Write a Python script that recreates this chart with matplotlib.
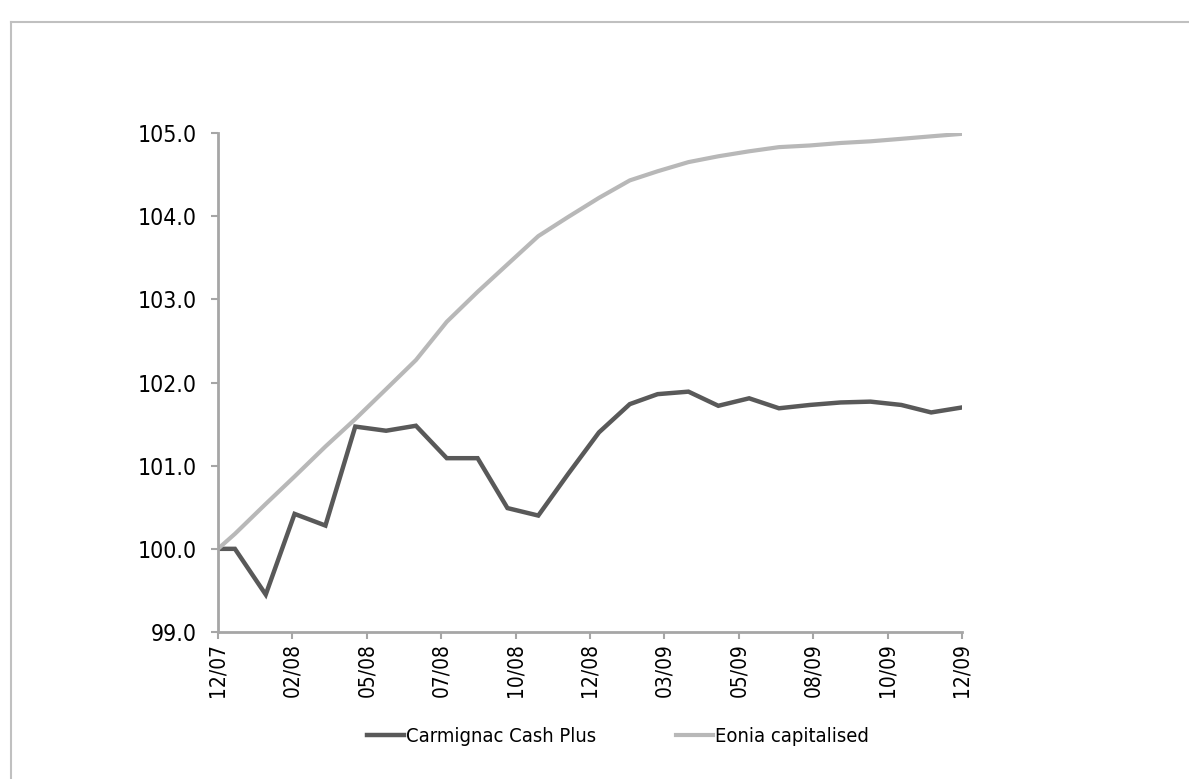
import matplotlib.pyplot as plt
import matplotlib.dates as mdates
from matplotlib.lines import Line2D
import numpy as np
import pandas as pd

# month-end valuation dates, first point is launch of the period
dates = pd.to_datetime(['2007-12-14']).append(pd.date_range('2007-12-31', '2009-12-31', freq='ME'))

carmignac = [100.00, 100.00, 99.45, 100.42, 100.28, 101.47, 101.42, 101.48, 101.09,
             101.09, 100.49, 100.40, 100.90, 101.40, 101.74, 101.86, 101.89, 101.72,
             101.81, 101.69, 101.73, 101.76, 101.77, 101.73, 101.64, 101.70]
eonia = [100.00, 100.18, 100.54, 100.87, 101.23, 101.56, 101.92, 102.27, 102.73,
         103.09, 103.42, 103.76, 103.99, 104.22, 104.43, 104.54, 104.65, 104.72,
         104.78, 104.83, 104.85, 104.88, 104.90, 104.93, 104.96, 104.99]

x_labels = ['12/07', '02/08', '05/08', '07/08', '10/08', '12/08',
            '03/09', '05/09', '08/09', '10/09', '12/09']
y_ticks = [99, 100, 101, 102, 103, 104, 105]

plt.rcParams['font.family'] = ['DejaVu Sans']
plt.rcParams['font.stretch'] = 'condensed'

fig = plt.figure(figsize=(11.89, 7.79), dpi=100)
ax = fig.add_axes([218 / 1189, 1 - 632 / 779, (962 - 218) / 1189, (632 - 133) / 779])

dark = '#595959'
light = '#b8b8b8'
axis_col = '#a6a6a6'

ax.plot(dates, carmignac, color=dark, lw=3.2, solid_joinstyle='miter', label='Carmignac Cash Plus')
ax.plot(dates, eonia, color=light, lw=3.0, label='Eonia capitalised')

ax.set_xlim(dates[0], dates[-1])
ax.set_ylim(99, 105)

lo, hi = mdates.date2num(dates[0]), mdates.date2num(dates[-1])
ax.set_xticks(np.linspace(lo, hi, len(x_labels)))
ax.set_xticklabels(x_labels, rotation=90, fontsize=15)
ax.set_yticks(y_ticks)
ax.set_yticklabels(['%.1f' % v for v in y_ticks], fontsize=16.5)

for s in ['top', 'right']:
    ax.spines[s].set_visible(False)
for s in ['left', 'bottom']:
    ax.spines[s].set_color(axis_col)
    ax.spines[s].set_linewidth(2)
ax.tick_params(axis='both', color=axis_col, width=1.5, length=5, direction='out')
ax.tick_params(axis='y', pad=10)
ax.tick_params(axis='x', pad=3)

# chart frame, only top and left edges visible in the crop
fig.add_artist(Line2D([11 / 1189, 1], [1 - 22 / 779, 1 - 22 / 779], color='#c0c0c0', lw=1.5))
fig.add_artist(Line2D([11 / 1189, 11 / 1189], [0, 1 - 22 / 779], color='#c0c0c0', lw=1.5))

fig.legend(loc='center', bbox_to_anchor=(618 / 1189, 1 - 737 / 779), ncol=2, frameon=False,
           fontsize=14.5, handlelength=1.8, handletextpad=0.1, columnspacing=4.0)

plt.savefig('out.png', dpi=100)
